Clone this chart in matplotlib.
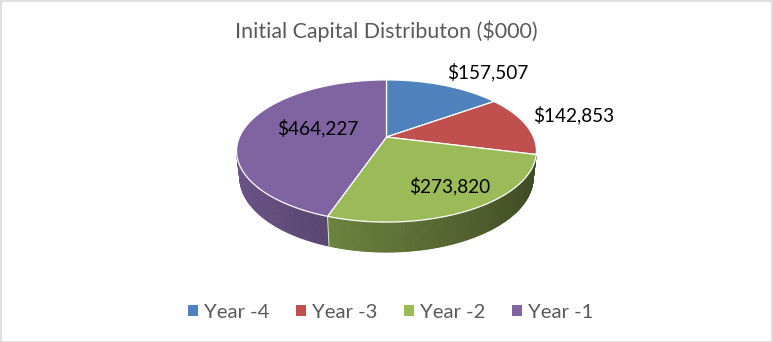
import numpy as np
import matplotlib
matplotlib.use("Agg")
import matplotlib.pyplot as plt
from matplotlib.patches import Polygon, Patch, Rectangle
from matplotlib.colors import to_rgb

plt.rcParams['font.family'] = ['Lato', 'DejaVu Sans']

# ---- data ----
title = "Initial Capital Distributon ($000)"
categories = ["Year -4", "Year -3", "Year -2", "Year -1"]
values = [157507, 142853, 273820, 464227]
colors = ["#4f81bd", "#c0504d", "#9bbb59", "#8064a2"]

# ---- 3D pie geometry (pixel space, y down) ----
W, H = 773, 342
cx, cy = 386.5, 137.0          # apex of the pie on screen
dist = 4.5                      # camera distance (in pie radii)
elev = np.radians(27.7)         # viewing elevation
scale = 147.0                   # pixels per radius at the pie centre
thick = 0.204                   # pie thickness (in radii)
se, ce = np.sin(elev), np.cos(elev)


def project(X, Y, Z):
    """Perspective projection of pie-space points (X right, Y up, Z far)."""
    yc = Z * se + Y * ce
    zc = dist + Z * ce - Y * se
    return cx + scale * dist * X / zc, cy - scale * dist * yc / zc


def shade(rgb, f):
    return tuple(np.clip(np.array(rgb) * f, 0, 1))


fig = plt.figure(figsize=(W / 100, H / 100), dpi=100)
ax = fig.add_axes([0, 0, 1, 1])
ax.set_xlim(0, W)
ax.set_ylim(H, 0)
ax.axis("off")

total = float(sum(values))
bounds = np.concatenate([[0.0], np.cumsum(values) / total * 2 * np.pi])


def faces_camera(a):
    # outward wall normal (sin a, 0, cos a) dotted with direction to camera
    return -1 - np.cos(a) * dist * ce > 0


# side walls: only segments whose outward normal faces the camera
side_pieces = []
for i, col in enumerate(colors):
    t = np.linspace(bounds[i], bounds[i + 1], 200)
    for a0, a1 in zip(t[:-1], t[1:]):
        am = 0.5 * (a0 + a1)
        if not faces_camera(am):
            continue
        side_pieces.append((np.cos(am), a0, a1, np.sin(am), col))

side_pieces.sort(key=lambda p: -p[0])  # far first
for v, a0, a1, u, col in side_pieces:
    X = np.array([np.sin(a0), np.sin(a1), np.sin(a1), np.sin(a0)])
    Z = np.array([np.cos(a0), np.cos(a1), np.cos(a1), np.cos(a0)])
    Y = np.array([0, 0, -thick, -thick])
    px, py = project(X, Y, Z)
    f = 0.62 - 0.23 * u
    c = shade(to_rgb(col), f)
    ax.add_patch(Polygon(np.column_stack([px, py]), closed=True,
                         facecolor=c, edgecolor=c, linewidth=0.6, zorder=1))

# thin highlight lines where slices meet on the side wall
for b in bounds[:-1]:
    if faces_camera(b):
        u, v = np.sin(b), np.cos(b)
        px, py = project(np.array([u, u]), np.array([0, -thick]), np.array([v, v]))
        ax.plot(px, py, color="white", lw=0.7, alpha=0.8, zorder=2)

# top faces
for i, col in enumerate(colors):
    t = np.linspace(bounds[i], bounds[i + 1], 200)
    X = np.concatenate([[0], np.sin(t)])
    Z = np.concatenate([[0], np.cos(t)])
    px, py = project(X, np.zeros_like(X), Z)
    ax.add_patch(Polygon(np.column_stack([px, py]), closed=True,
                         facecolor=col, edgecolor="white", linewidth=0.9,
                         joinstyle="round", zorder=3))

# data labels: anchor on the slice at its mid-angle, nudged into place
label_radius = [1.0, 1.0, 0.6, 0.6]
label_nudge = [(44, -13), (48, -10), (16, 9), (17, -2)]
for i, val in enumerate(values):
    am = 0.5 * (bounds[i] + bounds[i + 1])
    r = label_radius[i]
    px, py = project(r * np.sin(am), 0.0, r * np.cos(am))
    dx, dy = label_nudge[i]
    ax.text(px + dx, py + dy, f"${val:,}", ha="center", va="center",
            fontsize=13.7, color="black", zorder=5)

# title
fig.text(0.5, 1 - 31 / H, title, ha="center", va="center",
         fontsize=15.4, color="#595959")

# legend
handles = [Patch(facecolor=c, edgecolor="none") for c in colors]
fig.legend(handles, categories, loc="center", bbox_to_anchor=(391 / W, 1 - 312 / H),
           ncol=4, frameon=False, fontsize=14.6, labelcolor="#595959",
           handlelength=0.5, handleheight=0.5, handletextpad=0.3,
           columnspacing=1.3)

# chart area border
fig.patches.append(Rectangle((0.5 / W, 0.5 / H), 1 - 1.5 / W, 1 - 1.5 / H,
                             transform=fig.transFigure, fill=False,
                             edgecolor="#d9d9d9", linewidth=1.2))

fig.savefig("out.png", dpi=100)
